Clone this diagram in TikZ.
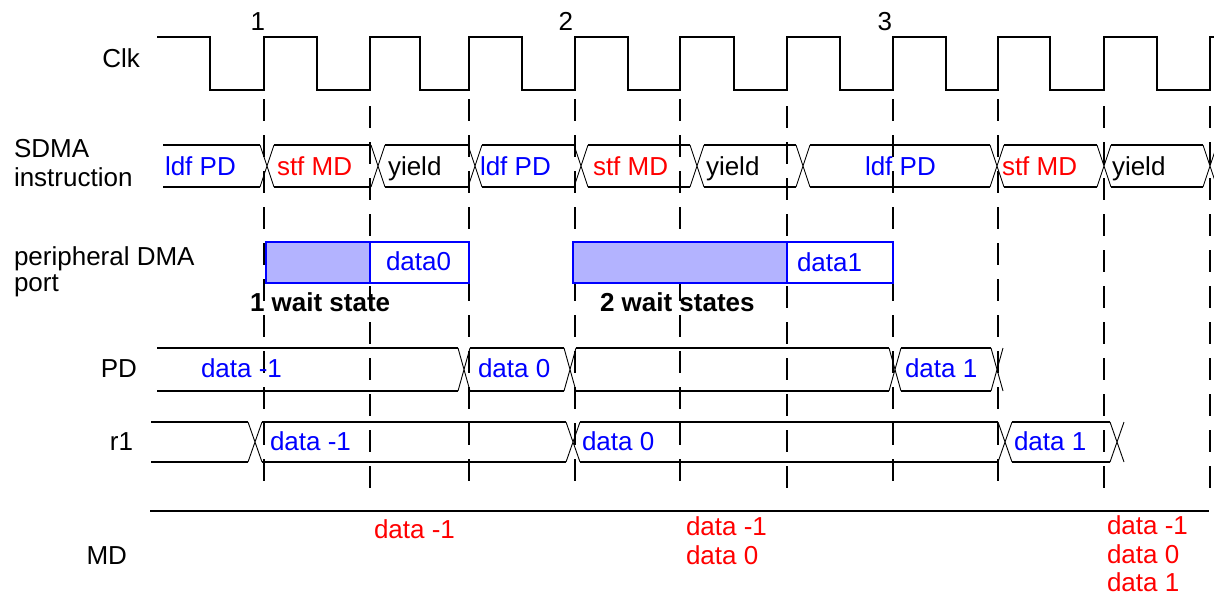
\documentclass[tikz,border=0pt]{standalone}
\usepackage{fontspec}
\setmainfont{Liberation Sans}
\definecolor{lav}{RGB}{179,179,255}
\definecolor{tblue}{RGB}{0,0,255}
\definecolor{tred}{RGB}{255,0,0}
\begin{document}
\begin{tikzpicture}[x=0.5pt,y=-0.5pt,
  every node/.style={font=\fontsize{13}{15.6}\selectfont, inner sep=0pt, outer sep=0pt},
  lbl/.style={text=black},
  bl/.style={text=tblue},
  rd/.style={text=tred},
  bf/.style={font=\fontsize{13}{15.6}\selectfont\bfseries},
  clk/.style={line width=1.1pt, line join=miter},
  bus/.style={line width=0.8pt},
  xl/.style={line width=0.45pt},
  tick/.style={line width=1pt, dash pattern=on 11pt off 7pt},
  pbox/.style={draw=tblue, line width=0.8pt}]
\path[use as bounding box] (0,0) rectangle (1214,596);
\clip (0,0) rectangle (1214,596);

% clock
\draw[clk] (157,37) -| (210,90) -| (264,37) -| (317,90) -| (370,37) -| (420,90)
  -| (469,37) -| (522,90) -| (575,37) -| (628,90) -| (680,37) -| (734,90)
  -| (787,37) -| (840,90) -| (893,37) -| (946,90) -| (998,37) -| (1050,90)
  -| (1104,37) -| (1157,90) -| (1210,37) -- (1216,37);

% dashed cycle markers
\foreach \x in {264,469,575,680,893,998}
  \draw[tick] (\x,99) -- (\x,488);
\foreach \x in {370,787,1104,1210}
  \draw[tick] (\x,106) -- (\x,488);

% SDMA instruction bus
\foreach \a/\b in {163/260,274/371,385/468,482/574,588/690,704/796,810/990,1004/1097,1111/1203}
  \draw[bus] (\a,145) -- (\b,145) (\a,187) -- (\b,187);
\foreach \c in {267,378,475,581,697,803,997,1104,1210}
  \draw[xl] (\c-7,145) -- (\c+7,187) (\c-7,187) -- (\c+7,145);

% peripheral DMA port
\draw[pbox, fill=lav] (266,242) rectangle (370,283);
\draw[pbox] (370,242) rectangle (469,283);
\draw[pbox, fill=lav] (573,242) rectangle (787,283);
\draw[pbox] (787,242) rectangle (893,283);

% PD bus
\foreach \a/\b in {157/458,470/564,576/889,901/991}
  \draw[bus] (\a,348) -- (\b,348) (\a,391) -- (\b,391);
\foreach \c in {464,570,895,997}
  \draw[xl] (\c-6,348) -- (\c+6,391) (\c-6,391) -- (\c+6,348);

% r1 bus
\foreach \a/\b in {151/248,262/566,580/998,1012/1110}
  \draw[bus] (\a,422) -- (\b,422) (\a,462) -- (\b,462);
\foreach \c in {255,573,1005,1117}
  \draw[xl] (\c-7,422) -- (\c+7,462) (\c-7,462) -- (\c+7,422);

% MD line
\draw[bus] (150,511) -- (1209,511);

% row labels
\node[lbl, anchor=base east] (lclk) at (140,67) {Clk};
\node[lbl, anchor=base east] (n1) at (265,30) {1};
\node[lbl, anchor=base east] (n2) at (573,30) {2};
\node[lbl, anchor=base east] (n3) at (892,30) {3};
\node[lbl, anchor=base west] (lsdma) at (14,157) {SDMA};
\node[lbl, anchor=base west] (linstr) at (14,186) {instruction};
\node[lbl, anchor=base west] (lperi) at (14,265) {peripheral DMA};
\node[lbl, anchor=base west] (lport) at (14,291) {port};
\node[lbl, anchor=base east] (lpd) at (137,377) {PD};
\node[lbl, anchor=base east] (lr1) at (133,450) {r1};
\node[lbl, anchor=base east] (lmd) at (127,564) {MD};

% SDMA texts
\node[bl, anchor=base west] (i1) at (165,175) {ldf PD};
\node[rd, anchor=base west] (i2) at (277,175) {stf MD};
\node[lbl, anchor=base west] (i3) at (388,175) {yield};
\node[bl, anchor=base west] (i4) at (480,175) {ldf PD};
\node[rd, anchor=base west] (i5) at (593,175) {stf MD};
\node[lbl, anchor=base west] (i6) at (706,175) {yield};
\node[bl, anchor=base west] (i7) at (865,175) {ldf PD};
\node[rd, anchor=base west] (i8) at (1002,175) {stf MD};
\node[lbl, anchor=base west] (i9) at (1112,175) {yield};

% peripheral texts
\node[bl, anchor=base west] (p0) at (386,270) {data0};
\node[bl, anchor=base west] (p1) at (797,271) {data1};
\node[bf, anchor=base west] (w1) at (250,311) {1 wait state};
\node[bf, anchor=base west] (w2) at (600,311) {2 wait states};

% PD texts
\node[bl, anchor=base west] (d1) at (201,377) {data -1};
\node[bl, anchor=base west] (d2) at (478,377) {data 0};
\node[bl, anchor=base west] (d3) at (905,377) {data 1};

% r1 texts
\node[bl, anchor=base west] (r1a) at (270,450) {data -1};
\node[bl, anchor=base west] (r1b) at (582,450) {data 0};
\node[bl, anchor=base west] (r1c) at (1014,450) {data 1};

% MD texts
\node[rd, anchor=base west] (m1) at (374,538) {data -1};
\node[rd, anchor=base west] (m2) at (686,535) {data -1};
\node[rd, anchor=base west] (m3) at (686,564) {data 0};
\node[rd, anchor=base west] (m4) at (1107,534) {data -1};
\node[rd, anchor=base west] (m5) at (1107,563) {data 0};
\node[rd, anchor=base west] (m6) at (1107,591) {data 1};
\end{tikzpicture}
\end{document}
